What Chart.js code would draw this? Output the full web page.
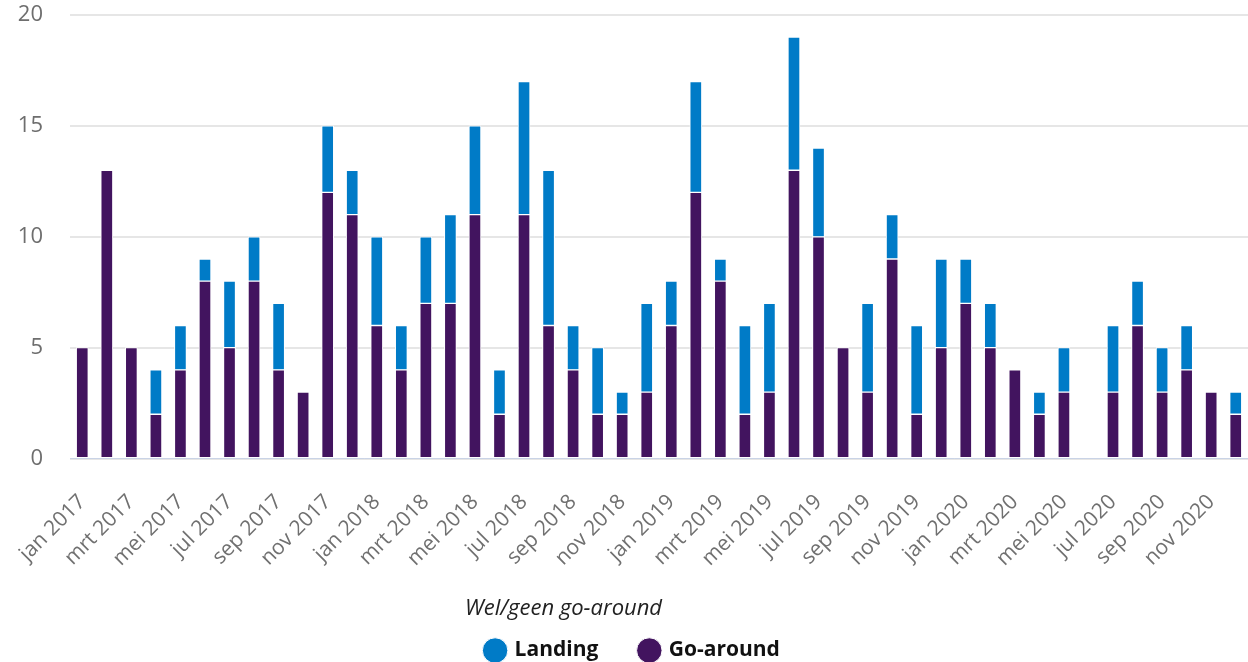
<!DOCTYPE html>
<html>
<head>
<meta charset="utf-8">
<script src="https://cdn.jsdelivr.net/npm/chart.js@4"></script>
<style>
  html, body { margin: 0; padding: 0; background: #fff; }
  #wrap { width: 1248px; height: 662px; }
</style>
</head>
<body>
<div id="wrap"><canvas id="chart" width="1248" height="662"></canvas></div>
<script>
// maanden jan 2017 t/m dec 2020
const maanden = ["jan", "feb", "mrt", "apr", "mei", "jun", "jul", "aug", "sep", "okt", "nov", "dec"];
const jaren = [2017, 2018, 2019, 2020];
const labels = [];
jaren.forEach(j => maanden.forEach(m => labels.push(m + " " + j)));

// go-around (onderste deel van de staaf)
const goAround = [
  5, 13, 5, 2, 4, 8, 5, 8, 4, 3, 12, 11,
  6, 4, 7, 7, 11, 2, 11, 6, 4, 2, 2, 3,
  6, 12, 8, 2, 3, 13, 10, 5, 3, 9, 2, 5,
  7, 5, 4, 2, 3, 0, 3, 6, 3, 4, 3, 2
];

// landing (bovenop)
const landing = [
  0, 0, 0, 2, 2, 1, 3, 2, 3, 0, 3, 2,
  4, 2, 3, 4, 4, 2, 6, 7, 2, 3, 1, 4,
  2, 5, 1, 4, 4, 6, 4, 0, 4, 2, 4, 4,
  2, 2, 0, 1, 2, 0, 3, 2, 2, 2, 0, 1
];

const yTicks = [0, 5, 10, 15, 20];

const ctx = document.getElementById("chart").getContext("2d");
new Chart(ctx, {
  type: "bar",
  data: {
    labels: labels,
    datasets: [
      {
        label: "Go-around",
        data: goAround,
        backgroundColor: "#42145f",
        borderColor: "#ffffff",
        borderWidth: 1,
        borderSkipped: false,
        barThickness: 12
      },
      {
        label: "Landing",
        data: landing,
        backgroundColor: "#007bc7",
        borderColor: "#ffffff",
        borderWidth: 1,
        borderSkipped: false,
        barThickness: 12
      }
    ]
  },
  options: {
    responsive: false,
    animation: false,
    layout: { padding: { left: 18, right: 0, top: 15, bottom: -9 } },
    scales: {
      x: {
        stacked: true,
        grid: { display: false },
        border: { color: "#c9d3e6", width: 1 },
        afterFit: s => { s.paddingLeft = 0; s.paddingRight = 0; s.height = 139; },
        ticks: {
          autoSkip: false,
          maxRotation: 45,
          minRotation: 45,
          color: "#707070",
          font: { family: "Open Sans", size: 21 },
          padding: 23,
          callback: function(v, i) { return i % 2 === 0 ? labels[i] : ""; }
        }
      },
      y: {
        stacked: true,
        min: 0,
        max: 20,
        afterBuildTicks: axis => { axis.ticks = yTicks.map(v => ({ value: v })); },
        afterFit: s => { s.width = 52; s.paddingTop = 0; s.paddingBottom = 0; },
        grid: { color: "#e6e6e6", lineWidth: 2, drawTicks: false },
        border: { display: false },
        ticks: {
          color: "#6e6e6e",
          font: { family: "Open Sans", size: 22 },
          padding: 27
        }
      }
    },
    plugins: {
      tooltip: { enabled: false },
      legend: {
        position: "bottom",
        reverse: true,
        title: {
          display: true,
          position: "start",
          text: "Wel/geen go-around",
          color: "#222",
          font: { family: "Open Sans", size: 22, style: "italic" },
          padding: { top: 0, bottom: -26 }
        },
        labels: {
          usePointStyle: true,
          pointStyle: "circle",
          boxWidth: 18,
          boxHeight: 18,
          padding: 42,
          color: "#111",
          font: { family: "Open Sans", size: 21, weight: "bold" }
        }
      }
    }
  }
});
</script>
</body>
</html>
